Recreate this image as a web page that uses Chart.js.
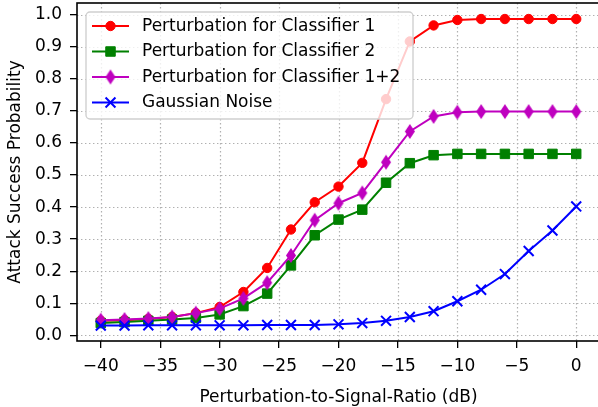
<!DOCTYPE html>
<html>
<head>
<meta charset="utf-8">
<script src="https://cdn.jsdelivr.net/npm/chart.js@4/dist/chart.umd.min.js"></script>
<style>
  html, body { margin: 0; padding: 0; overflow: hidden; background: #ffffff; }
  canvas { display: block; }
</style>
</head>
<body>
<canvas id="chart" width="600" height="407"></canvas>
<script>
// Perturbation-to-signal ratio in dB
const psrDb = [-40, -38, -36, -34, -32, -30, -28, -26, -24, -22, -20, -18, -16, -14, -12, -10, -8, -6, -4, -2, 0];

// Attack success probability per perturbation type
const classifier1 = [0.045, 0.047, 0.051, 0.057, 0.069, 0.088, 0.135, 0.210, 0.330, 0.415, 0.464, 0.538, 0.737, 0.917, 0.967, 0.984, 0.987, 0.987, 0.987, 0.987, 0.987];
const classifier2 = [0.038, 0.041, 0.045, 0.049, 0.054, 0.065, 0.091, 0.130, 0.218, 0.312, 0.361, 0.392, 0.476, 0.537, 0.562, 0.566, 0.566, 0.566, 0.566, 0.566, 0.566];
const classifier12 = [0.047, 0.049, 0.052, 0.057, 0.069, 0.083, 0.115, 0.164, 0.249, 0.359, 0.412, 0.444, 0.540, 0.636, 0.683, 0.696, 0.698, 0.698, 0.698, 0.698, 0.698];
const gaussianNoise = [0.030, 0.030, 0.031, 0.031, 0.031, 0.031, 0.031, 0.032, 0.032, 0.032, 0.034, 0.038, 0.045, 0.057, 0.075, 0.106, 0.142, 0.191, 0.263, 0.327, 0.402];

const seriesLabels = ['Perturbation for Classifier 1', 'Perturbation for Classifier 2', 'Perturbation for Classifier 1+2', 'Gaussian Noise'];

const xTickValues = [-40, -35, -30, -25, -20, -15, -10, -5, 0];
const yTickValues = [0.0, 0.1, 0.2, 0.3, 0.4, 0.5, 0.6, 0.7, 0.8, 0.9, 1.0];

const FONT = '"DejaVu Sans", "Liberation Sans", sans-serif';
const FONT_SIZE = 17;

// Thin diamond marker, like matplotlib's 'd'
function thinDiamond(color, w, h) {
  const c = document.createElement('canvas');
  c.width = w + 2;
  c.height = h + 2;
  const g = c.getContext('2d');
  g.beginPath();
  g.moveTo(c.width / 2, 1);
  g.lineTo(c.width - 1, c.height / 2);
  g.lineTo(c.width / 2, c.height - 1);
  g.lineTo(1, c.height / 2);
  g.closePath();
  g.fillStyle = color;
  g.fill();
  return c;
}

const RED = '#ff0000', GREEN = '#008000', MAGENTA = '#bf00bf', BLUE = '#0000ff';
const diamond = thinDiamond(MAGENTA, 10, 15);

const styles = [
  { color: RED, pointStyle: 'circle', radius: 4.7, borderWidth: 1 },
  { color: GREEN, pointStyle: 'rect', radius: 6.7, borderWidth: 1 },
  { color: MAGENTA, pointStyle: diamond, radius: 7, borderWidth: 1 },
  { color: BLUE, pointStyle: 'crossRot', radius: 7, borderWidth: 2 }
];
const seriesValues = [classifier1, classifier2, classifier12, gaussianNoise];

const datasets = seriesValues.map((vals, i) => ({
  label: seriesLabels[i],
  data: psrDb.map((x, j) => ({ x: x, y: vals[j] })),
  borderColor: styles[i].color,
  backgroundColor: styles[i].color,
  borderWidth: 2,
  pointStyle: styles[i].pointStyle,
  pointRadius: styles[i].radius,
  pointBorderWidth: styles[i].borderWidth,
  pointBackgroundColor: styles[i].color,
  pointBorderColor: styles[i].color,
  tension: 0,
  order: 3 - i,
  clip: false
}));

function minusSign(v) {
  return v < 0 ? '\u2212' + Math.abs(v) : String(v);
}

// Dotted grid behind the data
const gridPlugin = {
  id: 'dottedGrid',
  beforeDatasetsDraw(chart) {
    const { ctx, chartArea: a, scales } = chart;
    ctx.save();
    ctx.strokeStyle = '#b0b0b0';
    ctx.lineWidth = 1.2;
    ctx.setLineDash([1.4, 2.6]);
    xTickValues.forEach(v => {
      const px = Math.round(scales.x.getPixelForValue(v)) + 0.5;
      ctx.beginPath(); ctx.moveTo(px, a.top); ctx.lineTo(px, a.bottom); ctx.stroke();
    });
    yTickValues.forEach(v => {
      const py = Math.round(scales.y.getPixelForValue(v)) + 0.5;
      ctx.beginPath(); ctx.moveTo(a.left, py); ctx.lineTo(a.right, py); ctx.stroke();
    });
    ctx.restore();
  }
};

// Axes frame and the boxed legend on top of the lines
const framePlugin = {
  id: 'frameAndLegend',
  afterDatasetsDraw(chart) {
    const { ctx, chartArea: a } = chart;
    ctx.save();
    ctx.strokeStyle = '#000000';
    ctx.lineWidth = 1.6;
    ctx.strokeRect(a.left, a.top, a.right - a.left, a.bottom - a.top);

    // legend box
    const bx = 86, by = 12, bw = 327, bh = 107, r = 4;
    ctx.beginPath();
    ctx.moveTo(bx + r, by);
    ctx.arcTo(bx + bw, by, bx + bw, by + bh, r);
    ctx.arcTo(bx + bw, by + bh, bx, by + bh, r);
    ctx.arcTo(bx, by + bh, bx, by, r);
    ctx.arcTo(bx, by, bx + bw, by, r);
    ctx.closePath();
    ctx.fillStyle = 'rgba(255,255,255,0.8)';
    ctx.fill();
    ctx.strokeStyle = '#d0d0d0';
    ctx.lineWidth = 1.4;
    ctx.stroke();

    ctx.font = FONT_SIZE + 'px ' + FONT;
    ctx.textBaseline = 'middle';
    ctx.textAlign = 'left';
    seriesLabels.forEach((label, i) => {
      const y = by + 14 + i * 25.5;
      const s = styles[i];
      ctx.strokeStyle = s.color;
      ctx.fillStyle = s.color;
      ctx.lineWidth = 2;
      ctx.beginPath(); ctx.moveTo(92, y); ctx.lineTo(129, y); ctx.stroke();
      ctx.lineWidth = s.borderWidth;
      Chart.helpers.drawPoint(ctx, { pointStyle: s.pointStyle, radius: s.radius, borderWidth: s.borderWidth, rotation: 0 }, 110.5, y);
      ctx.fillStyle = '#000000';
      ctx.fillText(label, 142, y + 0.5);
    });
    ctx.restore();
  }
};

new Chart(document.getElementById('chart'), {
  type: 'line',
  data: { datasets: datasets },
  plugins: [gridPlugin, framePlugin],
  options: {
    responsive: false,
    animation: false,
    events: [],
    layout: { autoPadding: false, padding: { top: 3, right: 0, bottom: 0, left: 0 } },
    plugins: { legend: { display: false }, tooltip: { enabled: false } },
    scales: {
      x: {
        type: 'linear',
        min: -42,
        max: 2,
        afterBuildTicks: s => { s.ticks = xTickValues.map(v => ({ value: v })); },
        afterFit: s => { s.height = 66; s.paddingLeft = 0; s.paddingRight = 0; },
        grid: { drawOnChartArea: false, drawTicks: true, tickLength: 7, color: '#000000', lineWidth: 1.3 },
        border: { display: false },
        ticks: {
          autoSkip: false, maxRotation: 0, padding: 8, color: '#000000',
          font: { family: FONT, size: FONT_SIZE },
          callback: v => minusSign(v)
        },
        title: {
          display: true, text: 'Perturbation-to-Signal-Ratio (dB)', color: '#000000',
          font: { family: FONT, size: FONT_SIZE, lineHeight: 1 },
          padding: { top: 0, bottom: 0.5 }
        }
      },
      y: {
        type: 'linear',
        min: -0.018,
        max: 1.037,
        afterBuildTicks: s => { s.ticks = yTickValues.map(v => ({ value: v })); },
        afterFit: s => { s.width = 77; s.paddingTop = 0; s.paddingBottom = 0; },
        grid: { drawOnChartArea: false, drawTicks: true, tickLength: 7, color: '#000000', lineWidth: 1.3 },
        border: { display: false },
        ticks: {
          autoSkip: false, padding: 8, color: '#000000',
          font: { family: FONT, size: FONT_SIZE },
          callback: v => Number(v).toFixed(1)
        },
        title: {
          display: true, text: 'Attack Success Probability', color: '#000000',
          font: { family: FONT, size: FONT_SIZE, lineHeight: 1 },
          padding: { top: 7.5, bottom: 0 }
        }
      }
    }
  }
});
</script>
</body>
</html>
